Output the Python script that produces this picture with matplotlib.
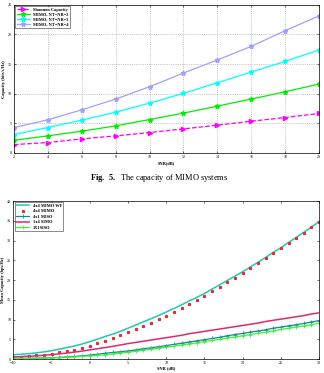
import matplotlib
matplotlib.use("Agg")
import matplotlib.pyplot as plt

plt.rcParams["font.family"] = ["Liberation Serif", "DejaVu Serif"]
plt.rcParams["mathtext.fontset"] = "custom"
plt.rcParams["mathtext.rm"] = "Liberation Serif"
plt.rcParams["mathtext.bf"] = "Liberation Serif:bold"

# top chart: capacity vs SNR
snr_top = [2, 4, 6, 8, 10, 12, 14, 16, 18, 20]
shannon = [1.41, 1.75, 2.37, 2.88, 3.44, 4.06, 4.68, 5.36, 5.98, 6.66]
mimo2 = [2.14, 2.88, 3.67, 4.57, 5.64, 6.72, 7.90, 9.09, 10.33, 11.63]
mimo3 = [3.10, 4.29, 5.53, 6.88, 8.41, 10.05, 11.85, 13.66, 15.46, 17.38]
mimo4 = [4.29, 5.59, 7.28, 9.09, 11.17, 13.49, 15.69, 18.00, 20.65, 23.14]

# bottom chart: mean capacity vs SNR (1 dB steps)
snr_bot = list(range(-10, 31))
mimo_wf = [1.1, 1.2, 1.35, 1.55, 1.8, 2.1, 2.5, 2.9, 3.3, 3.8, 4.4,
           5.0, 5.7, 6.3, 7.0, 7.8, 8.6, 9.4, 10.2, 11.0, 11.9,
           12.8, 13.7, 14.7, 15.6, 16.6, 17.7, 18.8, 19.9, 21.0, 22.1,
           23.3, 24.5, 25.7, 27.0, 28.2, 29.5, 30.8, 32.1, 33.4, 34.8]
mimo44 = [0.5, 0.6, 0.75, 0.9, 1.1, 1.35, 1.65, 2.0, 2.4, 2.9, 3.4,
          4.0, 4.6, 5.3, 6.0, 6.8, 7.6, 8.4, 9.2, 10.1, 11.0,
          11.9, 12.9, 13.9, 14.9, 16.0, 17.1, 18.2, 19.4, 20.6, 21.8,
          23.0, 24.2, 25.5, 26.8, 28.1, 29.4, 30.7, 32.0, 33.4, 34.8]
miso41 = [0.12, 0.15, 0.18, 0.22, 0.28, 0.35, 0.43, 0.52, 0.64, 0.8, 1.0,
          1.2, 1.45, 1.65, 1.85, 2.05, 2.3, 2.6, 2.85, 3.1, 3.4,
          3.7, 4.0, 4.3, 4.6, 4.9, 5.2, 5.5, 5.9, 6.2, 6.5,
          6.8, 7.1, 7.4, 7.8, 8.1, 8.4, 8.7, 9.0, 9.4, 9.7]
simo14 = [0.5, 0.6, 0.7, 0.8, 0.95, 1.1, 1.3, 1.5, 1.75, 2.0, 2.3,
          2.6, 2.9, 3.2, 3.55, 3.9, 4.2, 4.5, 4.8, 5.1, 5.4,
          5.7, 6.0, 6.4, 6.7, 7.0, 7.3, 7.6, 7.9, 8.2, 8.5,
          8.8, 9.1, 9.5, 9.8, 10.1, 10.4, 10.7, 11.0, 11.4, 11.7]
siso = [0.1, 0.12, 0.15, 0.18, 0.23, 0.3, 0.37, 0.45, 0.55, 0.68, 0.8,
        0.95, 1.1, 1.3, 1.5, 1.7, 1.95, 2.2, 2.45, 2.7, 3.0,
        3.25, 3.55, 3.85, 4.1, 4.4, 4.7, 5.0, 5.3, 5.6, 5.9,
        6.2, 6.5, 6.8, 7.1, 7.5, 7.8, 8.1, 8.4, 8.7, 9.1]

fig = plt.figure(figsize=(3.24, 3.73), dpi=100)

tick_fs = 3
lab_fs = 3.2
leg_fs = 3.2

# ---- top chart ----
ax1 = fig.add_axes([0.043, 0.590, 0.942, 0.397])
ax1.plot(snr_top, shannon, "--", color="#ff00ff", lw=0.9, marker=">", ms=3,
         label="Shannon Capacity")
ax1.plot(snr_top, mimo2, "-", color="#00ee00", lw=0.9, marker="*", ms=3.5,
         label="MIMO, NT=NR=2")
ax1.plot(snr_top, mimo3, "-", color="#00ffff", lw=0.9, marker="*", ms=3.5,
         label="MIMO, NT=NR=3")
ax1.plot(snr_top, mimo4, "-", color="#a0a0ff", lw=0.9, marker="*", ms=3.5,
         label="MIMO, NT=NR=4")
ax1.set_xlim(2, 20)
ax1.set_ylim(0, 25)
ax1.set_xticks(range(2, 21, 2))
ax1.set_yticks(range(0, 26, 5))
ax1.grid(True, linestyle=":", color="#999999", lw=0.5)
ax1.tick_params(labelsize=tick_fs, direction="in", length=1.5, width=0.4,
                top=True, right=True, pad=1.5)
ax1.set_xlabel("SNR(dB)", fontsize=lab_fs, fontweight="bold", labelpad=1.5)
ax1.set_ylabel("Capacity (bits/s/Hz)", fontsize=lab_fs, fontweight="bold",
               labelpad=1.5)
leg1 = ax1.legend(loc="upper left", fontsize=leg_fs, frameon=True,
                  fancybox=False, edgecolor="black", handlelength=3,
                  borderpad=0.3, labelspacing=0.2, borderaxespad=0.3)
leg1.get_frame().set_linewidth(0.4)
for t in leg1.get_texts():
    t.set_fontweight("bold")
for s in ax1.spines.values():
    s.set_linewidth(0.5)

fig.text(0.49, 0.523, r"$\mathbf{Fig.\ 5.}$  The capacity of MIMO systems",
         ha="center", va="center", fontsize=6)

# ---- bottom chart ----
ax2 = fig.add_axes([0.041, 0.0375, 0.944, 0.4235])
ax2.plot(snr_bot, mimo_wf, "-", color="#20c8b0", lw=1.1, label="4x4 MIMO WF")
ax2.plot(snr_bot, mimo44, linestyle="none", color="#e03030", marker="*",
         ms=2, label="4x4 MIMO")
ax2.plot(snr_bot, miso41, "-", color="#178a94", lw=0.9, marker="+", ms=3,
         mew=0.6, label="4x1 MISO")
ax2.plot(snr_bot, simo14, "-", color="#e0286e", lw=1.1, label="1x4 SIMO")
ax2.plot(snr_bot, siso, "-", color="#40f040", lw=0.9, marker="+", ms=3,
         mew=0.6, label="1X1SISO")
ax2.set_xlim(-10, 30)
ax2.set_ylim(0, 40)
ax2.set_xticks(range(-10, 31, 5))
ax2.set_yticks(range(0, 41, 5))
ax2.tick_params(labelsize=tick_fs, direction="in", length=1.5, width=0.4,
                top=True, right=True, pad=1.5)
ax2.set_xlabel("SNR (dB)", fontsize=lab_fs, fontweight="bold", labelpad=1)
ax2.set_ylabel("Mean Capacity (bps/Hz)", fontsize=lab_fs, fontweight="bold",
               labelpad=1.5)
leg2 = ax2.legend(loc="upper left", fontsize=leg_fs, frameon=True,
                  fancybox=False, edgecolor="black", handlelength=3,
                  borderpad=0.3, labelspacing=0.3, borderaxespad=0.3)
leg2.get_frame().set_linewidth(0.4)
for t in leg2.get_texts():
    t.set_fontweight("bold")
for s in ax2.spines.values():
    s.set_linewidth(0.5)

fig.savefig("out.png", dpi=100)
plt.close(fig)
